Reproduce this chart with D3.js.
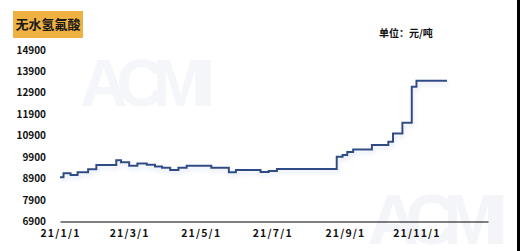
<!DOCTYPE html>
<html>
<head>
<meta charset="utf-8">
<script src="https://cdn.jsdelivr.net/npm/d3@7"></script>
<style>
body { margin: 0; background: #fff; }
svg { display: block; font-family: "Noto Sans CJK SC", "Noto Sans", sans-serif; }
</style>
</head>
<body>
<script>
// price series, step changes (date of change, yuan/ton)
var dates = ["2021-01-01","2021-01-04","2021-01-10","2021-01-16","2021-01-25","2021-02-01",
  "2021-02-18","2021-02-22","2021-03-01","2021-03-08","2021-03-16","2021-03-23","2021-03-29",
  "2021-04-05","2021-04-12","2021-04-19","2021-05-10","2021-05-25","2021-05-31","2021-06-21",
  "2021-06-28","2021-07-05","2021-08-25","2021-08-30","2021-09-03","2021-09-08","2021-09-24",
  "2021-10-08","2021-10-12","2021-10-20","2021-10-28","2021-11-01","2021-11-27"];
var prices = [8960,9150,9070,9195,9335,9535,
  9755,9660,9500,9600,9550,9470,9410,
  9300,9410,9500,9410,9195,9300,9210,
  9260,9350,9920,10000,10140,10260,10470,
  10620,11010,11510,13190,13470,13470];
var yTicks = [6900,7900,8900,9900,10900,11900,12900,13900,14900];
var xTicks = ["2021-01-01","2021-03-01","2021-05-01","2021-07-01","2021-09-01","2021-11-01"];
var title = "无水氢氟酸";
var unit = "单位：元/吨";

var W = 520, H = 251;
var svg = d3.select("body").append("svg").attr("width", W).attr("height", H);
var parse = d3.timeParse("%Y-%m-%d");
var fmt = d3.timeFormat("%y/%-m/%-d");

var x = d3.scaleTime()
  .domain([parse("2021-01-01"), parse("2022-01-01")])
  .range([60, 488]);
var y = d3.scaleLinear()
  .domain([6900, 14900])
  .range([221.5, 50]);

var defs = svg.append("defs");
var f = defs.append("filter").attr("id", "shadow")
  .attr("x", "-5%").attr("y", "-20%").attr("width", "110%").attr("height", "160%");
f.append("feDropShadow").attr("dx", 1).attr("dy", 3).attr("stdDeviation", 2)
  .attr("flood-color", "#a9bbdc").attr("flood-opacity", 0.4);

// faint watermarks
svg.append("text").attr("x", 80).attr("y", 106)
  .style("font-family", "Liberation Sans, sans-serif").style("font-weight", "bold")
  .style("font-size", "66px").attr("fill", "#f5f6f9").attr("textLength", 135)
  .text("ACMI");
svg.append("text").attr("x", 368).attr("y", 244)
  .style("font-family", "Liberation Sans, sans-serif").style("font-weight", "bold")
  .style("font-size", "70px").attr("fill", "#f4f5f9").attr("textLength", 140)
  .text("ACMI");

// title badge
svg.append("rect").attr("x", 13).attr("y", 11).attr("width", 70).attr("height", 27)
  .attr("fill", "#f0b143");
svg.append("text").attr("x", 48).attr("y", 29).attr("text-anchor", "middle")
  .style("font-size", "13px").style("font-weight", "bold").attr("fill", "#1a1a1a")
  .text(title);

svg.append("text").attr("x", 379).attr("y", 37)
  .style("font-size", "10px").style("font-weight", "bold").attr("fill", "#111")
  .text(unit);

// y labels (no axis line)
svg.append("g").selectAll("text")
  .data(yTicks)
  .enter().append("text")
  .attr("x", 46)
  .attr("y", function(d) { return y(d); })
  .attr("dy", "0.35em")
  .attr("text-anchor", "end")
  .style("font-size", "10px").style("font-weight", "bold").attr("fill", "#111")
  .text(function(d) { return d; });

// x axis
var xAxis = svg.append("g")
  .attr("transform", "translate(0," + y(6900) + ")")
  .call(d3.axisBottom(x).tickValues(xTicks.map(parse)).tickFormat(fmt).tickSize(0).tickPadding(8));
xAxis.select(".domain").attr("stroke", "#000").attr("stroke-width", 1.2);
xAxis.selectAll("text")
  .style("font-size", "10.5px").style("font-weight", "bold").attr("fill", "#111")
  .style("letter-spacing", "1.2px").style("font-family", "\"Noto Sans CJK SC\", sans-serif");

// price line
var line = d3.line()
  .x(function(d, i) { return x(parse(dates[i])); })
  .y(function(d) { return y(d); })
  .curve(d3.curveStepAfter);
svg.append("path")
  .datum(prices)
  .attr("d", line)
  .attr("fill", "none")
  .attr("stroke", "#2f4c85")
  .attr("stroke-width", 2)
  .attr("filter", "url(#shadow)");

// dark right edge
svg.append("rect").attr("x", 517).attr("y", 0).attr("width", 3).attr("height", H).attr("fill", "#000");
</script>
</body>
</html>
